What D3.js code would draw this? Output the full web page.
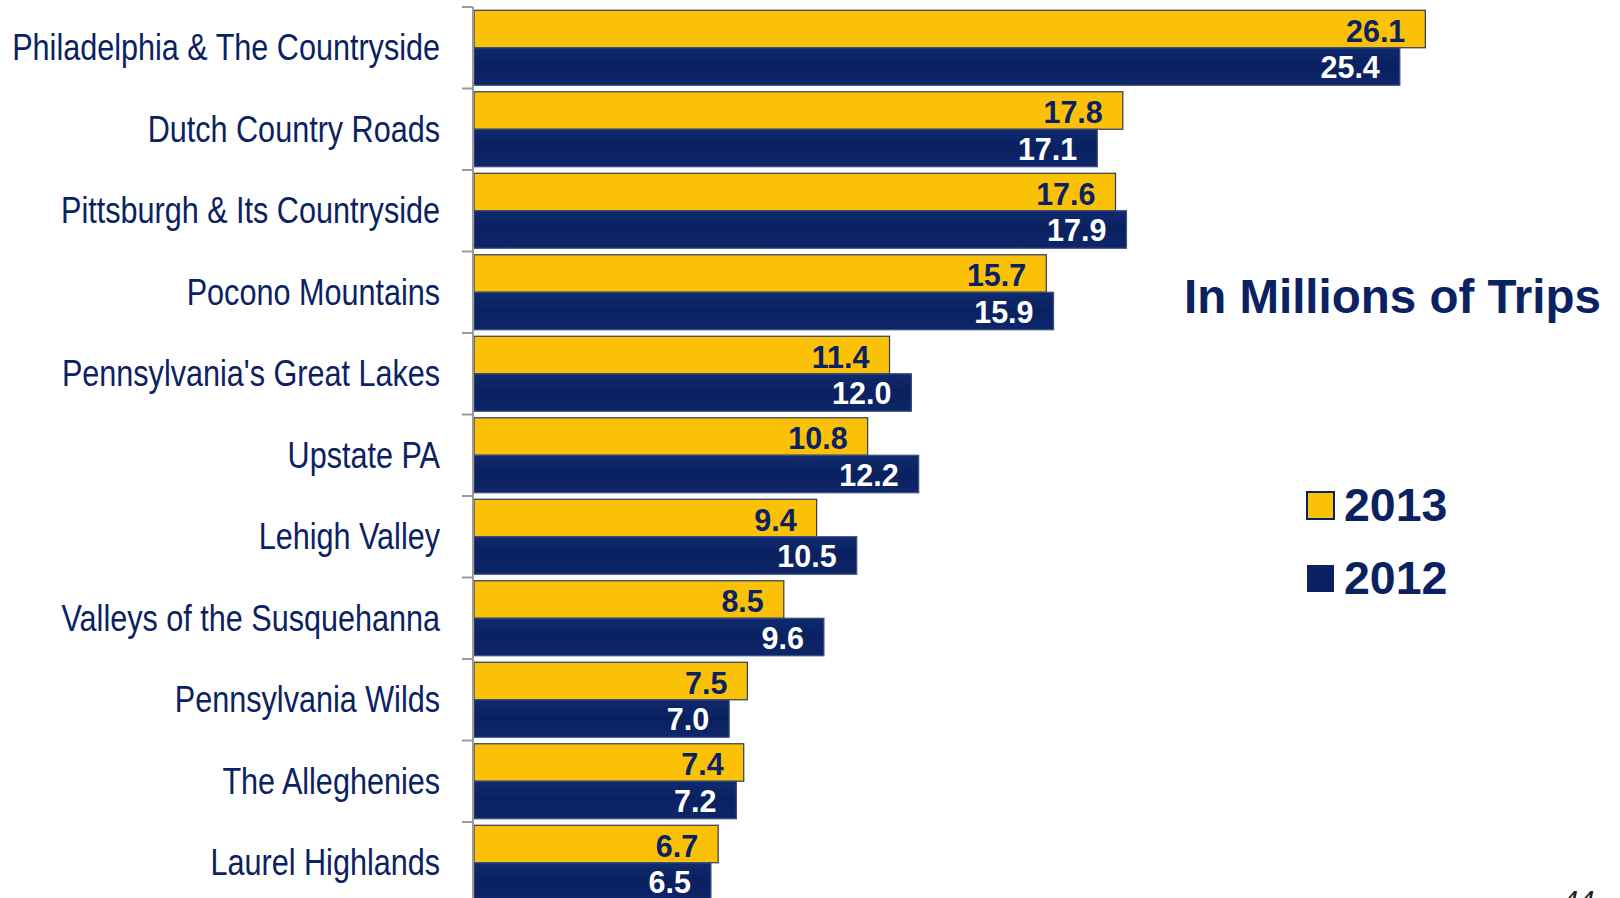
<!DOCTYPE html>
<html>
<head>
<meta charset="utf-8">
<script src="https://cdn.jsdelivr.net/npm/d3@7/dist/d3.min.js"></script>
<style>
  html, body { margin: 0; padding: 0; background: #ffffff; overflow: hidden; }
  svg { display: block; }
</style>
</head>
<body>
<svg id="chart" width="1620" height="898"></svg>
<script>
// ---- data ----
const categories = [
  "Philadelphia & The Countryside",
  "Dutch Country Roads",
  "Pittsburgh & Its Countryside",
  "Pocono Mountains",
  "Pennsylvania's Great Lakes",
  "Upstate PA",
  "Lehigh Valley",
  "Valleys of the Susquehanna",
  "Pennsylvania Wilds",
  "The Alleghenies",
  "Laurel Highlands"
];
const values2013 = [26.1, 17.8, 17.6, 15.7, 11.4, 10.8, 9.4, 8.5, 7.5, 7.4, 6.7];
const values2012 = [25.4, 17.1, 17.9, 15.9, 12.0, 12.2, 10.5, 9.6, 7.0, 7.2, 6.5];
const seriesNames = ["2013", "2012"];
const titleText = "In Millions of Trips";
const pageNumber = "44";

// ---- styles ----
const NAVY = "#0b2262";
const YELLOW = "#fac107";
const seriesFill = { "2013": YELLOW, "2012": NAVY };
const seriesStroke = { "2013": "#2d3a5c", "2012": "#3c4d7e" };
const seriesText = { "2013": NAVY, "2012": "#ffffff" };

const svg = d3.select("#chart");

const defs = svg.append("defs");
const grad = defs.append("linearGradient").attr("id", "navyGrad")
  .attr("x1", "0").attr("x2", "0").attr("y1", "0").attr("y2", "1");
grad.append("stop").attr("offset", "0%").attr("stop-color", "#0f2a6e");
grad.append("stop").attr("offset", "50%").attr("stop-color", "#0a2160");
grad.append("stop").attr("offset", "100%").attr("stop-color", "#0e276a");

// ---- scales ----
const x = d3.scaleLinear().domain([0, 30]).range([474, 474 + 30 * 36.45]);
const y = d3.scaleBand().domain(categories).range([7, 7 + categories.length * 81.5]).padding(0);
const ySub = d3.scaleBand().domain(seriesNames).range([0, y.bandwidth()])
  .paddingInner(0).paddingOuter(0.087);

const rows = categories.map((c, i) => ({
  cat: c,
  vals: [
    { s: "2013", v: values2013[i] },
    { s: "2012", v: values2012[i] }
  ]
}));

// ---- bars ----
const g = svg.append("g");
const rowG = g.selectAll("g.row").data(rows).join("g")
  .attr("class", "row")
  .attr("transform", d => `translate(0,${y(d.cat)})`);

rowG.selectAll("rect").data(d => d.vals).join("rect")
  .attr("x", x(0))
  .attr("y", d => ySub(d.s))
  .attr("width", d => x(d.v) - x(0))
  .attr("height", ySub.bandwidth())
  .attr("fill", d => d.s === "2012" ? "url(#navyGrad)" : seriesFill[d.s])
  .attr("stroke", d => seriesStroke[d.s])
  .attr("stroke-width", 1.2);

rowG.selectAll("text.val").data(d => d.vals).join("text")
  .attr("class", "val")
  .attr("x", d => x(d.v) - 20)
  .attr("y", d => ySub(d.s) + ySub.bandwidth() - (d.s === "2013" ? 6 : 7))
  .attr("text-anchor", "end")
  .attr("font-family", "'Liberation Sans', Arial, sans-serif")
  .attr("font-weight", "bold")
  .attr("font-size", 30.5)
  .attr("fill", d => seriesText[d.s])
  .text(d => d.v.toFixed(1));

// ---- axis (ticks at category boundaries) ----
const axisG = svg.append("g");
const bounds = categories.map(c => y(c)).concat([y.range()[1]]);
axisG.append("line")
  .attr("x1", x(0) - 1).attr("x2", x(0) - 1)
  .attr("y1", y.range()[0]).attr("y2", y.range()[1])
  .attr("stroke", "#9a9a9a").attr("stroke-width", 2);
axisG.selectAll("line.tick").data(bounds).join("line")
  .attr("class", "tick")
  .attr("x1", x(0) - 12).attr("x2", x(0) - 1)
  .attr("y1", d => d).attr("y2", d => d)
  .attr("stroke", "#9a9a9a").attr("stroke-width", 2);

// ---- category labels ----
const labels = svg.append("g").selectAll("text.cat").data(categories).join("text")
  .attr("class", "cat")
  .attr("text-anchor", "end")
  .attr("font-family", "'Liberation Sans Narrow', 'Arial Narrow', 'Liberation Sans', Arial, sans-serif")
  .attr("font-size", 36)
  .attr("fill", NAVY)
  .attr("dominant-baseline", "central")
  .text(d => d);

// fit condensed width to the reference: first label spans ~428px
const w0 = labels.nodes()[0].getComputedTextLength();
const k = 428 / w0;
labels.attr("transform", d => `translate(440,${y(d) + y.bandwidth() / 2}) scale(${k},1)`);

// ---- title ----
svg.append("text")
  .attr("x", 1184).attr("y", 313)
  .attr("font-family", "'Liberation Sans', Arial, sans-serif")
  .attr("font-weight", "bold")
  .attr("font-size", 47.5)
  .attr("fill", NAVY)
  .text(titleText);

// ---- legend ----
const leg = svg.append("g").attr("transform", "translate(1307,492)");
const legItems = leg.selectAll("g").data(seriesNames).join("g")
  .attr("transform", (d, i) => `translate(0,${i * 73})`);
legItems.append("rect")
  .attr("x", 0).attr("y", 0).attr("width", 27).attr("height", 27)
  .attr("fill", d => seriesFill[d])
  .attr("stroke", NAVY).attr("stroke-width", d => d === "2013" ? 2 : 0);
legItems.append("text")
  .attr("x", 37).attr("y", 29)
  .attr("font-family", "'Liberation Sans', Arial, sans-serif")
  .attr("font-weight", "bold")
  .attr("font-size", 46.5)
  .attr("fill", NAVY)
  .text(d => d);

// ---- page number (cut off at the bottom, as in the reference) ----
svg.append("text")
  .attr("x", 1562).attr("y", 911)
  .attr("font-family", "'Liberation Sans', Arial, sans-serif")
  .attr("font-style", "italic")
  .attr("font-size", 29)
  .attr("fill", "#222")
  .text(pageNumber);
</script>
</body>
</html>
